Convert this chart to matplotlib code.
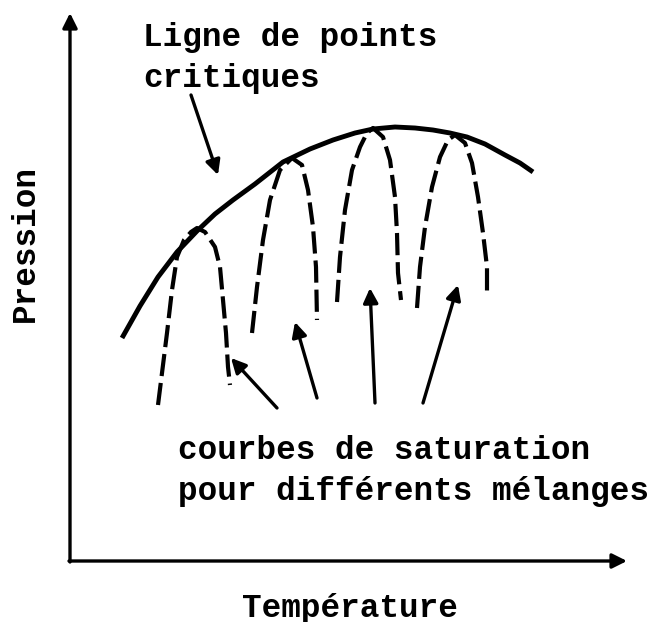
import matplotlib
matplotlib.use("Agg")
import matplotlib.pyplot as plt

plt.rcParams['font.family'] = ['Liberation Mono', 'DejaVu Sans Mono']
plt.rcParams['lines.scale_dashes'] = False

# Ligne de points critiques (Température, Pression) - schematic units
crit_T = [52, 70, 88, 107, 127, 145, 163, 185, 213, 240, 263, 285, 303,
          325, 345, 363, 380, 397, 415, 435, 450, 463]
crit_P = [223, 255, 284, 309, 330, 347, 361, 377, 399, 412, 421, 428, 432,
          434, 433, 431, 428, 424, 417, 406, 398, 389]

# Courbes de saturation pour différents mélanges
sat1_T = [88, 93, 97, 102, 107, 114, 121, 127, 135, 145, 150, 153, 156, 158, 160]
sat1_P = [156, 196, 228, 271, 304, 321, 329, 333, 329, 314, 294, 261, 228, 194, 176]
sat2_T = [182, 187, 193, 200, 210, 222, 232, 238, 243, 246, 247]
sat2_P = [228, 274, 321, 361, 391, 403, 396, 371, 334, 294, 241]
sat3_T = [267, 270, 275, 282, 290, 297, 303, 313, 320, 325, 327, 328, 331]
sat3_P = [259, 304, 351, 391, 414, 428, 433, 424, 401, 364, 328, 288, 261]
sat4_T = [347, 350, 355, 362, 370, 378, 385, 395, 402, 408, 413, 417, 417]
sat4_P = [253, 294, 334, 374, 404, 421, 426, 418, 398, 364, 328, 294, 264]
sat_T = [sat1_T, sat2_T, sat3_T, sat4_T]
sat_P = [sat1_P, sat2_P, sat3_P, sat4_P]

# Flèches (queue -> pointe)
arrow_tail_T = [121, 207, 247, 305, 353]
arrow_tail_P = [466, 153, 163, 158, 158]
arrow_head_T = [148, 161, 225, 300, 388]
arrow_head_P = [386, 203, 239, 273, 276]

T_axis_end = 557
P_axis_end = 548

fig = plt.figure(figsize=(6.71, 6.22), dpi=100)
ax = fig.add_axes([0, 0, 1, 1])
ax.set_xlim(-70, 601)
ax.set_ylim(-61, 561)
ax.axis('off')

# axes with arrows
axis_props = dict(arrowstyle='-|>', lw=2.4, color='black', mutation_scale=22,
                  shrinkA=0, shrinkB=0)
ax.annotate('', xy=(T_axis_end, 0), xytext=(-1, 0), arrowprops=axis_props)
ax.annotate('', xy=(0, P_axis_end), xytext=(0, -1), arrowprops=axis_props)

# critical line
ax.plot(crit_T, crit_P, color='black', lw=3.5, solid_capstyle='butt',
        solid_joinstyle='round')

# saturation curves
for T, P in zip(sat_T, sat_P):
    ax.plot(T, P, color='black', lw=3.0, dashes=(16, 5), dash_capstyle='butt')

# annotation arrows
arr_props = dict(arrowstyle='-|>', lw=2.4, color='black', mutation_scale=22,
                 shrinkA=0, shrinkB=0)
for tt, tp, ht, hp in zip(arrow_tail_T, arrow_tail_P, arrow_head_T, arrow_head_P):
    ax.annotate('', xy=(ht, hp), xytext=(tt, tp), arrowprops=arr_props)

fs = 23.5
ax.text(73, 503, "Ligne de points\ncritiques", fontsize=fs, fontweight='bold',
        ha='left', va='center', linespacing=1.45)
ax.text(108, 90, "courbes de saturation\npour différents mélanges", fontsize=fs,
        fontweight='bold', ha='left', va='center', linespacing=1.45)
ax.text(280, -47, "Température", fontsize=fs, fontweight='bold',
        ha='center', va='center')
ax.text(-45, 318, "Pression", fontsize=fs, fontweight='bold', rotation=90,
        ha='center', va='center')

fig.savefig('out.png', dpi=100)
